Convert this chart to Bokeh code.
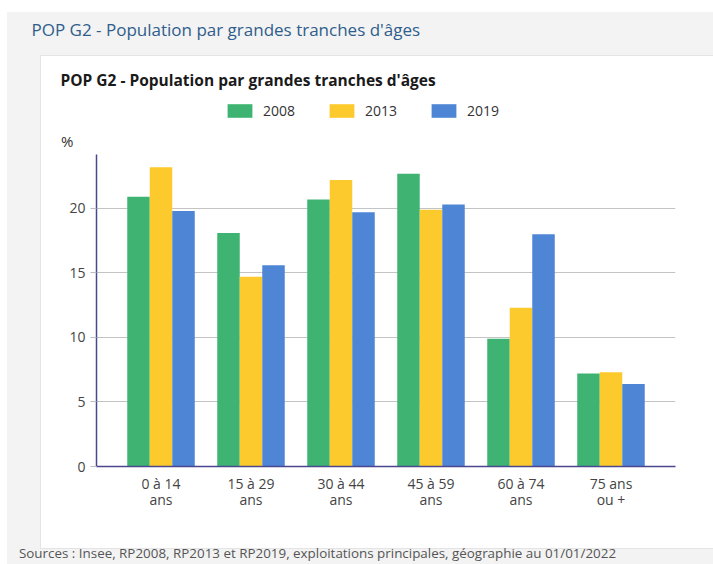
from bokeh.plotting import figure
from bokeh.models import (FactorRange, Range1d, ColumnDataSource, Legend, LegendItem,
                          Title, FixedTicker, LinearAxis, CategoricalAxis)
from bokeh.transform import dodge
from bokeh.embed import file_html
from bokeh.resources import INLINE

# ---- data ----
categories = ["0 à 14\nans", "15 à 29\nans", "30 à 44\nans", "45 à 59\nans", "60 à 74\nans", "75 ans\nou +"]
years = ["2008", "2013", "2019"]
v2008 = [20.9, 18.1, 20.7, 22.7, 9.9, 7.2]
v2013 = [23.2, 14.7, 22.2, 19.9, 12.3, 7.3]
v2019 = [19.8, 15.6, 19.7, 20.3, 18.0, 6.4]
y_ticks = [0, 5, 10, 15, 20]

page_title = "POP G2 - Population par grandes tranches d'âges"
chart_title = "POP G2 - Population par grandes tranches d'âges"
y_unit = "%"
sources = "Sources : Insee, RP2008, RP2013 et RP2019, exploitations principales, géographie au 01/01/2022"

colors = ["#3fb472", "#fdca2d", "#4e86d5"]
offsets = [-0.25, 0.0, 0.25]
fields = ["y2008", "y2013", "y2019"]

# page background: grey band with a white card (CSS behind a transparent canvas)
page_styles = {
    "background-color": "#ffffff",
    "background-image": ("linear-gradient(#ffffff, #ffffff), linear-gradient(#e4e4e4, #e4e4e4), "
                         "linear-gradient(#f3f3f3, #f3f3f3)"),
    "background-size": "672px 492px, 674px 494px, 706px 552px",
    "background-position": "41px 56px, 40px 55px, 7px 12px",
    "background-repeat": "no-repeat",
}

source = ColumnDataSource(dict(cat=categories, y2008=v2008, y2013=v2013, y2019=v2019))

# frame spans y 99..467 px, 12.97 px per unit
p = figure(width=713, height=564, title=None,
           x_range=FactorRange(factors=categories, range_padding=0.2167, range_padding_units="absolute"),
           y_range=Range1d(0, 28.37),
           output_backend="svg", toolbar_location=None,
           min_border_left=96, min_border_right=38, min_border_top=99, min_border_bottom=97,
           border_fill_color=None, background_fill_color=None, outline_line_color=None,
           styles=page_styles)

items = []
for yr, f, c, o in zip(years, fields, colors, offsets):
    r = p.vbar(x=dodge("cat", o, range=p.x_range), top=f, width=0.25, source=source,
               fill_color=c, line_color=None)
    items.append(LegendItem(label=yr, renderers=[r]))

legend = Legend(items=items, orientation="horizontal", location=(128, 346),
                glyph_width=31, glyph_height=17, label_height=17, label_standoff=8, spacing=31,
                padding=0, margin=0, border_line_color=None, background_fill_alpha=0,
                label_text_font="Open Sans", label_text_font_size="14px", label_text_color="#333333")
p.add_layout(legend)

# ---- titles (above panel, nearest to frame first) ----
p.add_layout(Title(text=chart_title, align="left", offset=-36, standoff=20, text_font="Open Sans",
                   text_font_size="15.5px", text_font_style="bold", text_color="#1a1a1a"), "above")
p.add_layout(Title(text=page_title, align="left", offset=-65, standoff=31, text_font="Open Sans",
                   text_font_size="17px", text_font_style="normal", text_color="#2f5d8c"), "above")

# ---- axes ----
axis_color = "#4a4790"
p.yaxis.ticker = FixedTicker(ticks=y_ticks)
p.yaxis.bounds = (0, 24.2)
p.yaxis.axis_line_color = axis_color
p.yaxis.axis_line_width = 1.5
p.yaxis.major_tick_line_color = "#bdbdbd"
p.yaxis.major_tick_out = 6
p.yaxis.major_tick_in = 0
p.yaxis.minor_tick_line_color = None
p.yaxis.major_label_standoff = 5
p.yaxis.major_label_text_font = "Open Sans"
p.yaxis.major_label_text_font_size = "14px"
p.yaxis.major_label_text_color = "#444444"

# unit label "%" at the top of the value axis
unit_axis = LinearAxis(ticker=FixedTicker(ticks=[25.2]), major_label_overrides={25.2: y_unit},
                       axis_line_color=None, major_tick_line_color=None, minor_tick_line_color=None,
                       major_label_standoff=-13, major_label_text_font="Open Sans",
                       major_label_text_font_size="15px", major_label_text_color="#333333")
p.add_layout(unit_axis, "left")

p.xaxis.axis_line_color = axis_color
p.xaxis.axis_line_width = 1.5
p.xaxis.major_tick_line_color = None
p.xaxis.minor_tick_line_color = None
p.xaxis.major_label_standoff = 1
p.xaxis.major_label_text_font = "Open Sans"
p.xaxis.major_label_text_font_size = "14px"
p.xaxis.major_label_text_color = "#444444"
p.xaxis.major_label_text_line_height = 0.875

p.xgrid.grid_line_color = None
p.ygrid.grid_line_color = "#c4c4c4"
p.ygrid.grid_line_width = 1

# sources line under the card (its own categorical range, centred around x = 317 px)
p.extra_x_ranges = {"src": FactorRange(factors=[sources, " "], range_padding=1.113,
                                       range_padding_units="absolute")}
src_axis = CategoricalAxis(x_range_name="src",
                           axis_line_color=None, major_tick_line_color=None, minor_tick_line_color=None,
                           major_label_standoff=25, major_label_text_font="Open Sans",
                           major_label_text_font_size="13.4px", major_label_text_color="#555555")
p.add_layout(src_axis, "below")

open("out.html", "w").write(file_html(p, INLINE))
